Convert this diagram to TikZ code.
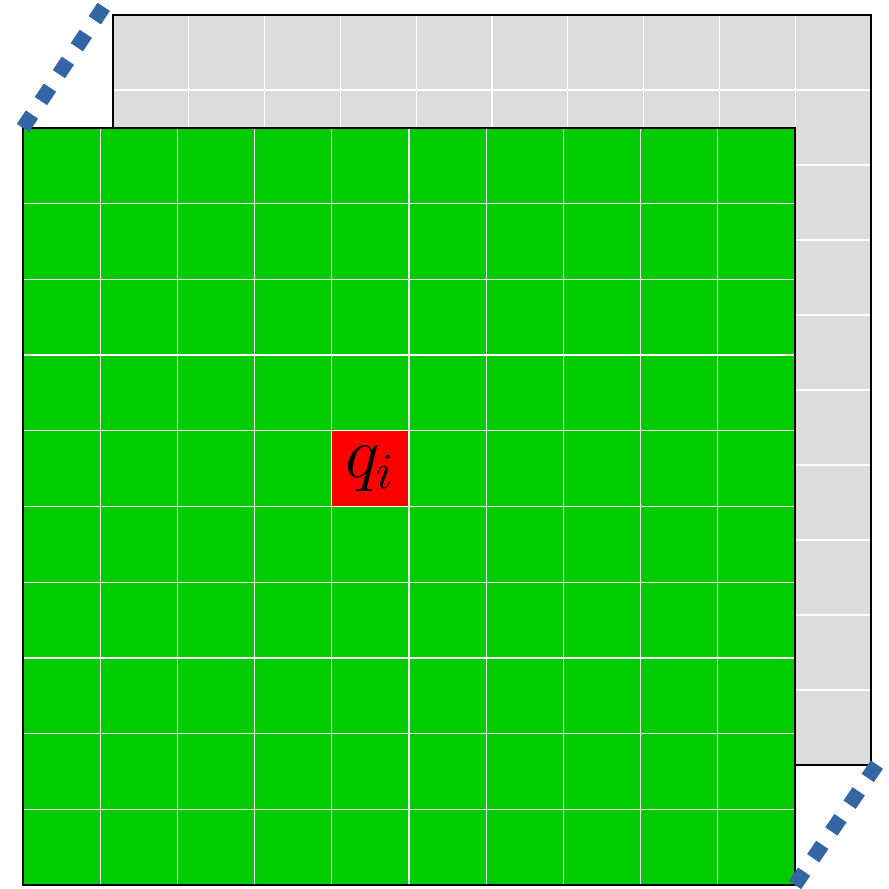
\documentclass[tikz,border=0pt]{standalone}
\usetikzlibrary{calc}
\definecolor{pgray}{RGB}{220,220,220}
\definecolor{pgrn} {RGB}{  0,204,  0}
\definecolor{pred} {RGB}{255,  0,  0}
\definecolor{pblue}{RGB}{ 52,101,164}
\tikzset{
  % back and front planes
  Plane/.style={draw=black,line width=0.3pt},
  % white cell lines
  GridLn/.style={draw=white,line width=0.35pt},
  % thick dashed link between planes
  Link/.style={draw=pblue,line width=4.2pt,dash pattern=on 4.6pt off 4.6pt},
}

\begin{document}
\begin{tikzpicture}[x=0.01cm,y=-0.01cm]
\useasboundingbox (0,0) rectangle (889,889);
% ── back plane ───────────────────────────
\fill[pgray] (113,15) rectangle (871,765);
\foreach \i in {1,...,9}{
  \draw[GridLn] ({113+\i*75.8},15) -- ({113+\i*75.8},765);
  \draw[GridLn] (113,{15+\i*75}) -- (871,{15+\i*75});
}
\draw[Plane] (113,15) rectangle (871,765);
% ── front plane ──────────────────────────
\fill[pgrn] (23,128) rectangle (795,885);
\fill[pred] ({23+4*77.2},{128+4*75.7}) rectangle ({23+5*77.2},{128+5*75.7});
\foreach \i in {1,...,9}{
  \draw[GridLn] ({23+\i*77.2},128) -- ({23+\i*77.2},885);
  \draw[GridLn] (23,{128+\i*75.7}) -- (795,{128+\i*75.7});
}
\draw[Plane] (23,128) rectangle (795,885);
\node[font=\fontsize{21}{25}\selectfont,inner sep=0pt]
  at ({23+4.5*77.2},{128+4.5*75.7}) (qcell) {$q_i$};
% ── links ────────────────────────────────
\coordinate (gTL) at (23,128);
\coordinate (tEnd) at (105,5);
\coordinate (gBR) at (795,885);
\coordinate (bEnd) at (882,757);
\draw[Link] (gTL) -- (tEnd);
\draw[Link] (gBR) -- (bEnd);
\end{tikzpicture}
\end{document}
